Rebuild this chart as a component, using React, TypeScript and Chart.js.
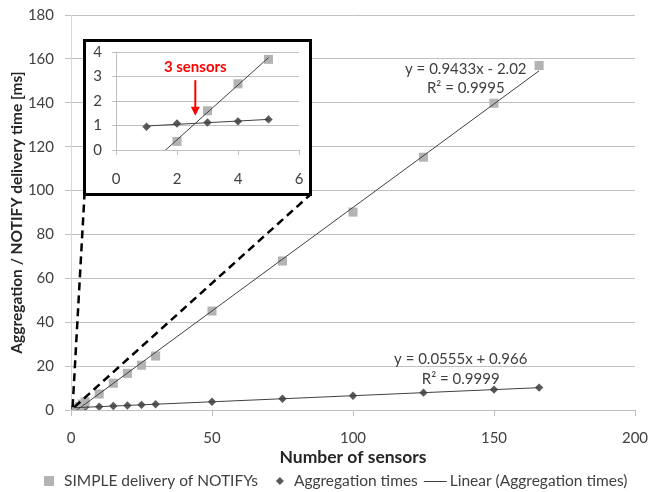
import React, { useEffect, useRef } from "react";
import { Chart, registerables } from "chart.js";

Chart.register(...registerables);

// ---------- data ----------
const aggCounts = [1, 2, 3, 4, 5, 10, 15, 20, 25, 30, 50, 75, 100, 125, 150, 166];
const aggTimes = [0.95, 1.08, 1.12, 1.17, 1.25, 1.52, 1.8, 2.08, 2.35, 2.62, 3.75, 5.12, 6.5, 7.9, 9.3, 10.2];
const simpleCounts = [2, 3, 4, 5, 10, 15, 20, 25, 30, 50, 75, 100, 125, 150, 166];
const simpleTimes = [0.35, 1.6, 2.7, 3.7, 7.3, 12.2, 16.7, 20.4, 24.6, 45.1, 67.9, 90.2, 115.2, 139.8, 157.0];

// trendline end points (Excel linear trendlines)
const trendSimpleX = [1, 166];
const trendSimpleY = [-1.08, 154.57];
const trendAggX = [1, 166];
const trendAggY = [1.02, 10.18];

// inset (first five sensor counts)
const insetAggCounts = [1, 2, 3, 4, 5];
const insetAggTimes = [0.95, 1.08, 1.12, 1.17, 1.25];
const insetSimpleCounts = [2, 3, 4, 5];
const insetSimpleTimes = [0.35, 1.6, 2.7, 3.7];
const insetTrendSimpleX = [1, 5];
const insetTrendSimpleY = [-0.7, 3.77];
const insetTrendAggX = [1, 5];
const insetTrendAggY = [0.98, 1.25];

// axes
const mainXRange = [0, 200];
const mainXStep = 50;
const mainYRange = [0, 180];
const mainYStep = 20;
const insetXRange = [0, 6];
const insetXStep = 2;
const insetYRange = [0, 4];
const insetYStep = 1;

// texts
const seriesNames = ["SIMPLE delivery of NOTIFYs", "Aggregation times", "Linear (Aggregation times)"];
const xTitle = "Number of sensors";
const yTitle = "Aggregation / NOTIFY delivery time [ms]";
const simpleEquation = ["y = 0.9433x - 2.02", "R² = 0.9995"];
const aggEquation = ["y = 0.0555x + 0.966", "R² = 0.9999"];
const insetNote = "3 sensors";

// ---------- styles ----------
const FONT = "Lato, 'Open Sans', sans-serif";
const TEXT = "#404040";
const GRID = "#c0c0c0";
const YAXIS = "#d9d9d9";
const SIMPLE_COLOR = "#b3b3b3";
const AGG_COLOR = "#595959";
const TREND_COLOR = "#404040";
const FS = 15;
const LEGEND_FS = 15.5;

const W = 649;
const H = 492;
const INSET = { left: 83, top: 39, width: 229, height: 157, border: 3 };

const toPts = (xs: number[], ys: number[]) => xs.map((x, i) => ({ x, y: ys[i] }));

function datasets(sx: number[], sy: number[], ax: number[], ay: number[], tsx: number[], tsy: number[], tax: number[], tay: number[]) {
  return [
    {
      label: "Linear (SIMPLE delivery of NOTIFYs)",
      data: toPts(tsx, tsy),
      showLine: true,
      pointRadius: 0,
      borderColor: TREND_COLOR,
      borderWidth: 1,
    },
    {
      label: seriesNames[2],
      data: toPts(tax, tay),
      showLine: true,
      pointRadius: 0,
      borderColor: TREND_COLOR,
      borderWidth: 1,
    },
    {
      label: seriesNames[0],
      data: toPts(sx, sy),
      pointStyle: "rect",
      pointRadius: 6.4,
      backgroundColor: SIMPLE_COLOR,
      borderWidth: 0,
      showLine: false,
    },
    {
      label: seriesNames[1],
      data: toPts(ax, ay),
      pointStyle: "rectRot",
      pointRadius: 4.2,
      backgroundColor: AGG_COLOR,
      borderWidth: 0,
      showLine: false,
    },
  ];
}

// keep the plot area where the layout padding says, not widened for tick labels
const fixX = (height: number) => (s: any) => {
  s.height = height;
  s.paddingLeft = 0;
  s.paddingRight = 0;
};
const fixY = (width: number) => (s: any) => {
  s.width = width;
  s.paddingTop = 0;
  s.paddingBottom = 0;
};

const mainAnnotations = {
  id: "mainAnnotations",
  afterDatasetsDraw(chart: any) {
    const { ctx } = chart;
    const xs = chart.scales.x;
    const ys = chart.scales.y;
    ctx.save();
    ctx.fillStyle = TEXT;
    ctx.font = `${FS}px ${FONT}`;
    ctx.textAlign = "center";
    ctx.textBaseline = "middle";
    ctx.fillText(simpleEquation[0], xs.getPixelForValue(140), ys.getPixelForValue(155.3));
    ctx.fillText(simpleEquation[1], xs.getPixelForValue(140), ys.getPixelForValue(146.6));
    ctx.fillText(aggEquation[0], xs.getPixelForValue(138.2), ys.getPixelForValue(23.1));
    ctx.fillText(aggEquation[1], xs.getPixelForValue(138.2), ys.getPixelForValue(14.0));

    // dashed zoom lines from near the origin to the inset's lower corners
    const axp = xs.getPixelForValue(1);
    const ayp = ys.getPixelForValue(1.3);
    const by = INSET.top + INSET.height - INSET.border / 2;
    ctx.setLineDash([8, 5]);
    ctx.lineWidth = 2.5;
    ctx.strokeStyle = "#000";
    ctx.beginPath();
    ctx.moveTo(axp - 1.2, ayp);
    ctx.lineTo(INSET.left + INSET.border / 2, by);
    ctx.moveTo(axp + 0.5, ayp);
    ctx.lineTo(INSET.left + INSET.width - INSET.border / 2, by);
    ctx.stroke();
    ctx.restore();
  },
};

// legend drawn below the x-axis title
const bottomLegend = {
  id: "bottomLegend",
  afterDraw(chart: any) {
    const { ctx } = chart;
    ctx.save();
    ctx.font = `${LEGEND_FS}px ${FONT}`;
    ctx.textBaseline = "middle";
    ctx.textAlign = "left";
    const tw = seriesNames.map((t) => ctx.measureText(t).width);
    const parts = [10, 10, tw[0], 18, 8, 10, tw[1], 6, 23, 3, tw[2]];
    const total = parts.reduce((a, b) => a + b, 0);
    let x = Math.round(336 - total / 2);
    const y = chart.height - 11;
    // square
    ctx.fillStyle = SIMPLE_COLOR;
    ctx.fillRect(x, y - 5, 10, 10);
    x += 20;
    ctx.fillStyle = TEXT;
    ctx.fillText(seriesNames[0], x, y);
    x += tw[0] + 18;
    // diamond
    ctx.fillStyle = AGG_COLOR;
    ctx.beginPath();
    ctx.moveTo(x + 4, y - 4);
    ctx.lineTo(x + 8, y);
    ctx.lineTo(x + 4, y + 4);
    ctx.lineTo(x, y);
    ctx.closePath();
    ctx.fill();
    x += 18;
    ctx.fillStyle = TEXT;
    ctx.fillText(seriesNames[1], x, y);
    x += tw[1] + 6;
    // line
    ctx.strokeStyle = TREND_COLOR;
    ctx.lineWidth = 1;
    ctx.beginPath();
    ctx.moveTo(x, y + 0.5);
    ctx.lineTo(x + 23, y + 0.5);
    ctx.stroke();
    x += 26;
    ctx.fillText(seriesNames[2], x, y);
    ctx.restore();
  },
};

const insetAnnotations = {
  id: "insetAnnotations",
  afterDatasetsDraw(chart: any) {
    const { ctx } = chart;
    const xs = chart.scales.x;
    const ys = chart.scales.y;
    const x = xs.getPixelForValue(2.6);
    ctx.save();
    ctx.fillStyle = "#ff0000";
    ctx.strokeStyle = "#ff0000";
    ctx.font = `bold ${FS}px ${FONT}`;
    ctx.textAlign = "center";
    ctx.textBaseline = "middle";
    ctx.fillText(insetNote, x, ys.getPixelForValue(3.38));
    const y0 = ys.getPixelForValue(2.85);
    const y1 = ys.getPixelForValue(1.4);
    ctx.lineWidth = 2;
    ctx.beginPath();
    ctx.moveTo(x, y0);
    ctx.lineTo(x, y1 - 8);
    ctx.stroke();
    ctx.beginPath();
    ctx.moveTo(x - 4.5, y1 - 9);
    ctx.lineTo(x + 4.5, y1 - 9);
    ctx.lineTo(x, y1);
    ctx.closePath();
    ctx.fill();
    ctx.restore();
  },
};

export default function App() {
  const mainRef = useRef<HTMLCanvasElement>(null);
  const insetRef = useRef<HTMLCanvasElement>(null);

  useEffect(() => {
    const tickFont = { family: FONT, size: FS };
    const main = new Chart(mainRef.current!, {
      type: "scatter",
      data: {
        datasets: datasets(simpleCounts, simpleTimes, aggCounts, aggTimes, trendSimpleX, trendSimpleY, trendAggX, trendAggY) as any,
      },
      plugins: [mainAnnotations, bottomLegend],
      options: {
        responsive: false,
        animation: false,
        events: [],
        layout: { padding: { top: 15, right: 14, left: 0, bottom: 23 } },
        plugins: {
          tooltip: { enabled: false },
          legend: { display: false },
        },
        scales: {
          x: {
            type: "linear",
            min: mainXRange[0],
            max: mainXRange[1],
            ticks: { stepSize: mainXStep, padding: 13, color: TEXT, font: tickFont },
            grid: { drawOnChartArea: false, drawTicks: true, tickLength: 6, color: GRID },
            border: { color: GRID, width: 1 },
            title: { display: true, text: xTitle, color: "#262626", font: { family: FONT, size: 17.5, weight: "bold" }, padding: { top: 0, bottom: 1 } },
            afterFit: fixX(59),
          },
          y: {
            type: "linear",
            min: mainYRange[0],
            max: mainYRange[1],
            ticks: { stepSize: mainYStep, padding: 11, color: TEXT, font: tickFont },
            grid: { color: GRID, tickLength: 6 },
            border: { color: YAXIS, width: 1 },
            title: { display: true, text: yTitle, color: "#262626", font: { family: FONT, size: 15.5, weight: "bold" }, padding: { top: 8, bottom: 0 } },
            afterFit: fixY(71),
          },
        },
      } as any,
    });

    const inset = new Chart(insetRef.current!, {
      type: "scatter",
      data: {
        datasets: datasets(insetSimpleCounts, insetSimpleTimes, insetAggCounts, insetAggTimes, insetTrendSimpleX, insetTrendSimpleY, insetTrendAggX, insetTrendAggY) as any,
      },
      plugins: [insetAnnotations],
      options: {
        responsive: false,
        animation: false,
        events: [],
        layout: { padding: { top: 10, right: 10, left: 0, bottom: 0 } },
        plugins: { tooltip: { enabled: false }, legend: { display: false } },
        scales: {
          x: {
            type: "linear",
            min: insetXRange[0],
            max: insetXRange[1],
            ticks: { stepSize: insetXStep, padding: 15, color: TEXT, font: tickFont },
            grid: { drawOnChartArea: false, drawTicks: true, tickLength: 5, color: GRID },
            border: { color: GRID, width: 1 },
            afterFit: fixX(43),
          },
          y: {
            type: "linear",
            min: insetYRange[0],
            max: insetYRange[1],
            ticks: { stepSize: insetYStep, padding: 10, color: TEXT, font: tickFont },
            grid: { color: GRID, tickLength: 4 },
            border: { color: GRID, width: 1 },
            afterFit: fixY(30),
          },
        },
      } as any,
    });

    return () => {
      main.destroy();
      inset.destroy();
    };
  }, []);

  const innerW = INSET.width - 2 * INSET.border;
  const innerH = INSET.height - 2 * INSET.border;

  return (
    <div style={{ position: "fixed", left: 0, top: 0, width: W, height: H, background: "#fff" }}>
      <canvas ref={mainRef} width={W} height={H} style={{ position: "absolute", left: 0, top: 0 }} />
      <div
        style={{
          position: "absolute",
          left: INSET.left,
          top: INSET.top,
          width: INSET.width,
          height: INSET.height,
          border: `${INSET.border}px solid #000`,
          boxSizing: "border-box",
          background: "#fff",
        }}
      >
        <canvas ref={insetRef} width={innerW} height={innerH} style={{ display: "block" }} />
      </div>
    </div>
  );
}
